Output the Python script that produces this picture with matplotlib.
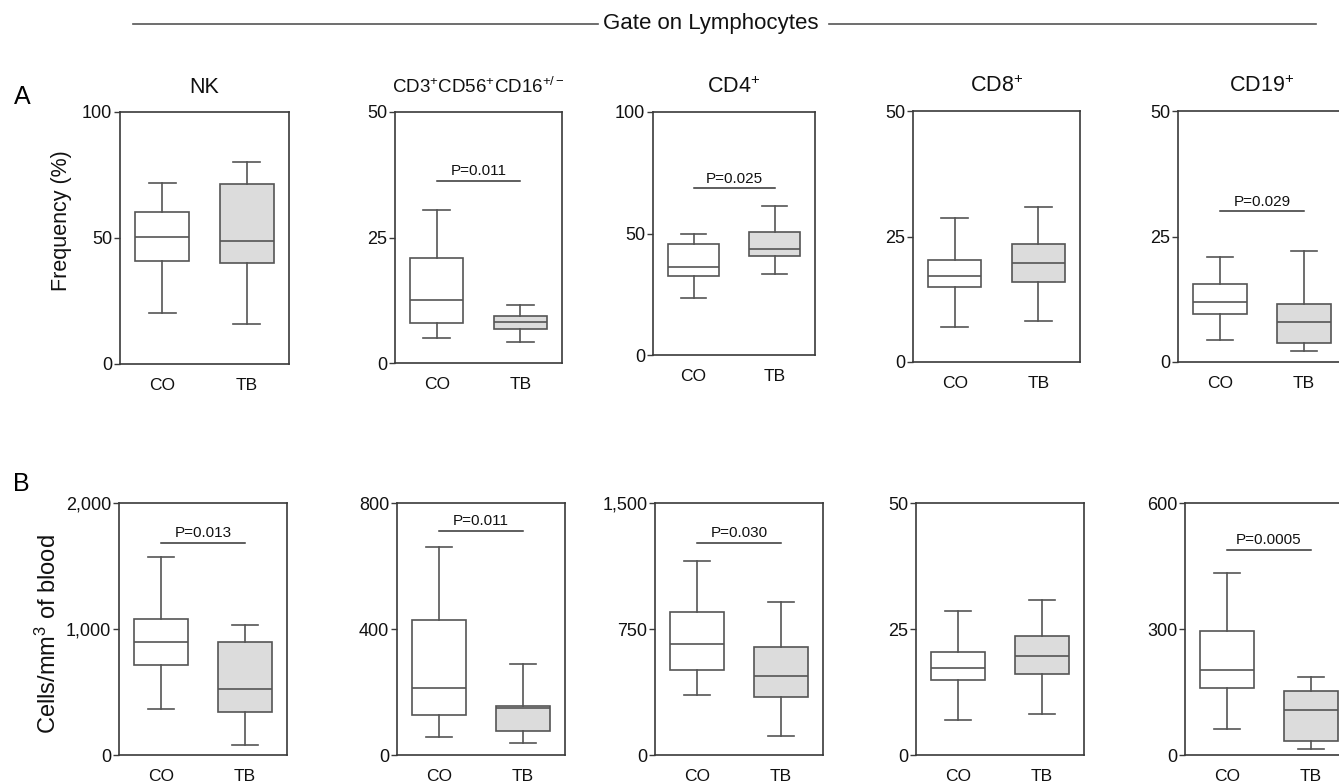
import matplotlib
matplotlib.use("Agg")
import matplotlib.pyplot as plt
from matplotlib.lines import Line2D

plt.rcParams["font.family"] = ["Liberation Sans", "DejaVu Sans"]
plt.rcParams["mathtext.fontset"] = "custom"
plt.rcParams["mathtext.rm"] = "Liberation Sans"
plt.rcParams["mathtext.it"] = "Liberation Sans"
plt.rcParams["mathtext.default"] = "regular"

W, H = 1339, 782

# ---- data: [whisker low, Q1, median, Q3, whisker high] ---------------------
groups = ["CO", "TB"]
titles = ["NK", "CD3$^{+}$CD56$^{+}$CD16$^{+/-}$", "CD4$^{+}$", "CD8$^{+}$", "CD19$^{+}$"]

freq_co = [[20.1, 40.9, 50.2, 60.3, 71.7],
           [5.0, 7.9, 12.6, 21.0, 30.5],
           [23.6, 32.6, 36.2, 45.5, 49.6],
           [7.0, 14.9, 17.2, 20.4, 28.6],
           [4.3, 9.5, 11.9, 15.5, 21.0]]
freq_tb = [[15.8, 40.0, 48.9, 71.5, 80.0],
           [4.25, 6.8, 8.2, 9.3, 11.5],
           [33.2, 40.8, 43.8, 50.7, 61.4],
           [8.1, 15.9, 19.7, 23.5, 30.9],
           [2.1, 3.8, 7.9, 11.5, 22.1]]
freq_ymax = [100, 50, 100, 50, 50]
freq_pval = [None, "P=0.011", "P=0.025", None, "P=0.029"]
freq_pline = [None, 36.2, 68.6, None, 30.0]

cells_co = [[363, 715, 895, 1081, 1568],
            [58, 127, 213, 427, 660],
            [360, 505, 660, 850, 1152],
            [7.0, 14.9, 17.2, 20.5, 28.5],
            [61, 159, 203, 296, 433]]
cells_tb = [[82, 344, 524, 900, 1028],
            [37, 75, 148, 156, 289],
            [115, 346, 473, 642, 908],
            [8.1, 16.0, 19.7, 23.6, 30.8],
            [14, 33, 108, 152, 186]]
cells_ymax = [2000, 800, 1500, 50, 600]
cells_ticklabels = [["0", "1,000", "2,000"], ["0", "400", "800"],
                    ["0", "750", "1,500"], ["0", "25", "50"], ["0", "300", "600"]]
cells_pval = ["P=0.013", "P=0.011", "P=0.030", None, "P=0.0005"]
cells_pline = [1682, 711, 1262, None, 488]

# axes rectangles in pixels: left, right, top, bottom
rects_a = [(120, 289, 112, 364), (395, 562, 112, 363), (653, 815, 112, 355),
           (913, 1080, 111, 362), (1178, 1346, 111, 362)]
rects_b = [(119, 287, 503, 755), (397, 565, 503, 755), (655, 823, 503, 755),
           (916, 1084, 503, 755), (1185, 1353, 503, 755)]

LINE = "#555555"
SPINE = "#3a3a3a"
FILL_TB = "#dcdcdc"


def _ax(fig, r):
    l, rr, t, b = r
    return fig.add_axes([l / W, 1 - b / H, (rr - l) / W, (b - t) / H])


def _stats(vals, label):
    lo, q1, med, q3, hi = vals
    return {"whislo": lo, "q1": q1, "med": med, "q3": q3, "whishi": hi,
            "label": label, "fliers": []}


def draw_panel(ax, co, tb, ymax, ticklabels, pval, pline):
    bp = ax.bxp([_stats(co, groups[0]), _stats(tb, groups[1])],
                positions=[1, 2], widths=0.64, showfliers=False, patch_artist=True,
                boxprops=dict(linewidth=1.2, edgecolor=LINE),
                whiskerprops=dict(linewidth=1.2, color=LINE),
                capprops=dict(linewidth=1.2, color=LINE),
                medianprops=dict(linewidth=1.2, color=LINE))
    for patch, fc in zip(bp["boxes"], ["white", FILL_TB]):
        patch.set_facecolor(fc)
    ax.set_xlim(0.5, 2.5)
    ax.set_ylim(0, ymax)
    ax.set_yticks([0, ymax / 2, ymax])
    ax.set_yticklabels(ticklabels)
    ax.tick_params(axis="y", length=4.5, width=1.0, pad=1, labelsize=13,
                   color=SPINE, labelcolor="#111111")
    ax.tick_params(axis="x", length=0, pad=10, labelsize=12.5, labelcolor="#111111")
    for s in ax.spines.values():
        s.set_color(SPINE)
        s.set_linewidth(1.2)
    if pval:
        ax.plot([1, 2], [pline, pline], color="#333333", linewidth=1.1)
        ax.annotate(pval, (1.5, pline), xytext=(0, 2), textcoords="offset points",
                    ha="center", va="bottom", fontsize=11, color="#111111")


fig = plt.figure(figsize=(W / 100, H / 100), dpi=100)

for i in range(5):
    ax = _ax(fig, rects_a[i])
    ym = freq_ymax[i]
    draw_panel(ax, freq_co[i], freq_tb[i], ym, [str(v) for v in (0, ym // 2, ym)],
               freq_pval[i], freq_pline[i])
    ax.set_title(titles[i], fontsize=13.5 if i == 1 else 15.5, pad=14, color="#111111")

for i in range(5):
    ax = _ax(fig, rects_b[i])
    draw_panel(ax, cells_co[i], cells_tb[i], cells_ymax[i], cells_ticklabels[i],
               cells_pval[i], cells_pline[i])

# header
fig.text(711 / W, 1 - 23 / H, "Gate on Lymphocytes", ha="center", va="center",
         fontsize=16, color="#111111")
for x0, x1 in [(133, 598), (829, 1316)]:
    fig.add_artist(Line2D([x0 / W, x1 / W], [1 - 24 / H, 1 - 24 / H],
                          transform=fig.transFigure, color="#555555", linewidth=1.2))

fig.text(22 / W, 1 - 97 / H, "A", ha="center", va="center", fontsize=18)
fig.text(21 / W, 1 - 484 / H, "B", ha="center", va="center", fontsize=18)
fig.text(61 / W, 1 - 221 / H, "Frequency (%)", rotation=90, ha="center", va="center",
         fontsize=15.5, color="#111111")
fig.text(48 / W, 1 - 634 / H, "Cells/mm$^{3}$ of blood", rotation=90, ha="center",
         va="center", fontsize=17, color="#111111")

fig.savefig("out.png", dpi=100)
plt.close(fig)
